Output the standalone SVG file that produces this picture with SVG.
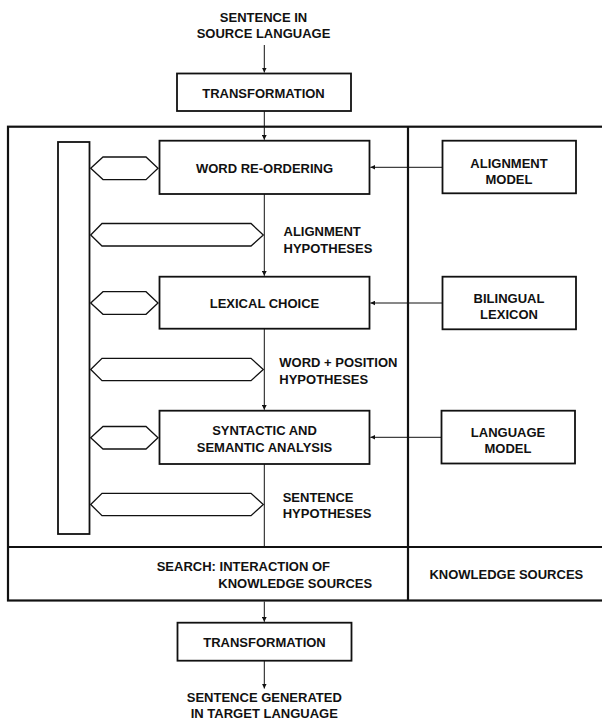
<svg xmlns="http://www.w3.org/2000/svg" width="602" height="720" viewBox="0 0 602 720">
<style>
.t{font-family:"Liberation Sans",Arial,sans-serif;font-weight:bold;font-size:13px;fill:#111}
.c{text-anchor:middle}
.box{fill:#fff;stroke:#111;stroke-width:1.8}
.frame{fill:none;stroke:#111;stroke-width:2.2}
.hex{fill:#fff;stroke:#111;stroke-width:1.3}
.ln{fill:none;stroke:#111;stroke-width:1}
</style>
<defs>
<marker id="ah" viewBox="0 0 8 8" refX="8" refY="4" markerWidth="5" markerHeight="5" orient="auto" markerUnits="userSpaceOnUse">
<path d="M0,0 L8,4 L0,8 Z" fill="#111"/>
</marker>
</defs>
<rect width="602" height="720" fill="#fff"/>

<g id="frame">
<rect class="frame" x="8" y="126.7" width="620" height="473.8"/>
<line class="frame" x1="408" y1="126.7" x2="408" y2="600.5"/>
<line class="frame" x1="8" y1="547" x2="602" y2="547"/>
</g>

<g id="connectors">
<line class="ln" x1="264.3" y1="45" x2="264.3" y2="72.5" marker-end="url(#ah)"/>
<line class="ln" x1="264.3" y1="111" x2="264.3" y2="139.8" marker-end="url(#ah)"/>
<line class="ln" x1="264.3" y1="194" x2="264.3" y2="275.8" marker-end="url(#ah)"/>
<line class="ln" x1="264.3" y1="328.7" x2="264.3" y2="409.8" marker-end="url(#ah)"/>
<line class="ln" x1="264.3" y1="464" x2="264.3" y2="547"/>
<line class="ln" x1="264.3" y1="601.5" x2="264.3" y2="621.8" marker-end="url(#ah)"/>
<line class="ln" x1="264.3" y1="660.7" x2="264.3" y2="688.5" marker-end="url(#ah)"/>
<line class="ln" x1="442.5" y1="167.3" x2="370.4" y2="167.3" marker-end="url(#ah)"/>
<line class="ln" x1="442.5" y1="303" x2="370.4" y2="303" marker-end="url(#ah)"/>
<line class="ln" x1="441.5" y1="437.3" x2="370.4" y2="437.3" marker-end="url(#ah)"/>
</g>

<g id="source-text">
<text class="t c" x="263.5" y="21.5">SENTENCE IN</text>
<text class="t c" x="263.5" y="37.5">SOURCE LANGUAGE</text>
</g>

<g id="transformation-top">
<rect class="box" x="177" y="73.5" width="174" height="37.5"/>
<text class="t c" x="263.5" y="97.5">TRANSFORMATION</text>
</g>

<g id="search-bar">
<rect class="box" x="58" y="142" width="31.5" height="392" stroke-width="1.6"/>
</g>

<g id="hex-1">
<polygon class="hex" points="90.7,168.3 103,157 146,157 158,168.3 146,179.6 103,179.6"/>
</g>
<g id="hex-2">
<polygon class="hex" points="90.7,235 102,223.5 251,223.5 263.3,235 251,246 102,246"/>
</g>
<g id="hex-3">
<polygon class="hex" points="90.7,303 103,291.7 146,291.7 158,303 146,314.3 103,314.3"/>
</g>
<g id="hex-4">
<polygon class="hex" points="90.7,369.5 102,358.3 251,358.3 263.3,369.5 251,380.7 102,380.7"/>
</g>
<g id="hex-5">
<polygon class="hex" points="90.7,437.7 103,426.5 146,426.5 158,437.7 146,449 103,449"/>
</g>
<g id="hex-6">
<polygon class="hex" points="90.7,504.5 102,493.3 251,493.3 263.3,504.5 251,515.7 102,515.7"/>
</g>

<g id="word-reordering">
<rect class="box" x="159.5" y="140.7" width="210" height="53.3"/>
<text class="t c" x="264.5" y="172.5">WORD RE-ORDERING</text>
</g>

<g id="alignment-hypotheses">
<text class="t" x="283.5" y="235.5">ALIGNMENT</text>
<text class="t" x="283.5" y="252.5">HYPOTHESES</text>
</g>

<g id="lexical-choice">
<rect class="box" x="159.5" y="276.7" width="210" height="52"/>
<text class="t c" x="264.5" y="308">LEXICAL CHOICE</text>
</g>

<g id="word-position-hypotheses">
<text class="t" x="279.3" y="367.3">WORD + POSITION</text>
<text class="t" x="279.3" y="384">HYPOTHESES</text>
</g>

<g id="syntactic-semantic">
<rect class="box" x="159.5" y="410.7" width="210" height="53.3"/>
<text class="t c" x="264.5" y="435">SYNTACTIC AND</text>
<text class="t c" x="264.5" y="451.7">SEMANTIC ANALYSIS</text>
</g>

<g id="sentence-hypotheses">
<text class="t" x="282.7" y="501.7">SENTENCE</text>
<text class="t" x="282.7" y="518.3">HYPOTHESES</text>
</g>

<g id="alignment-model">
<rect class="box" x="442.5" y="140.7" width="133.5" height="52.6"/>
<text class="t c" x="509" y="167.5">ALIGNMENT</text>
<text class="t c" x="509" y="183.5">MODEL</text>
</g>

<g id="bilingual-lexicon">
<rect class="box" x="442.5" y="276.7" width="133.5" height="52.6"/>
<text class="t c" x="509" y="302.7">BILINGUAL</text>
<text class="t c" x="509" y="318.5">LEXICON</text>
</g>

<g id="language-model">
<rect class="box" x="441.5" y="410.7" width="133.5" height="52.8"/>
<text class="t c" x="508" y="436.5">LANGUAGE</text>
<text class="t c" x="508" y="452.5">MODEL</text>
</g>

<g id="search-label">
<text class="t" x="156.7" y="570.7">SEARCH: INTERACTION OF</text>
<text class="t" x="218.3" y="588.3">KNOWLEDGE SOURCES</text>
</g>

<g id="knowledge-sources-label">
<text class="t c" x="506.3" y="579">KNOWLEDGE SOURCES</text>
</g>

<g id="transformation-bottom">
<rect class="box" x="177.5" y="622.7" width="174" height="38"/>
<text class="t c" x="264.5" y="647.3">TRANSFORMATION</text>
</g>

<g id="target-text">
<text class="t c" x="264.3" y="702">SENTENCE GENERATED</text>
<text class="t c" x="264.3" y="717.5">IN TARGET LANGUAGE</text>
</g>
</svg>
